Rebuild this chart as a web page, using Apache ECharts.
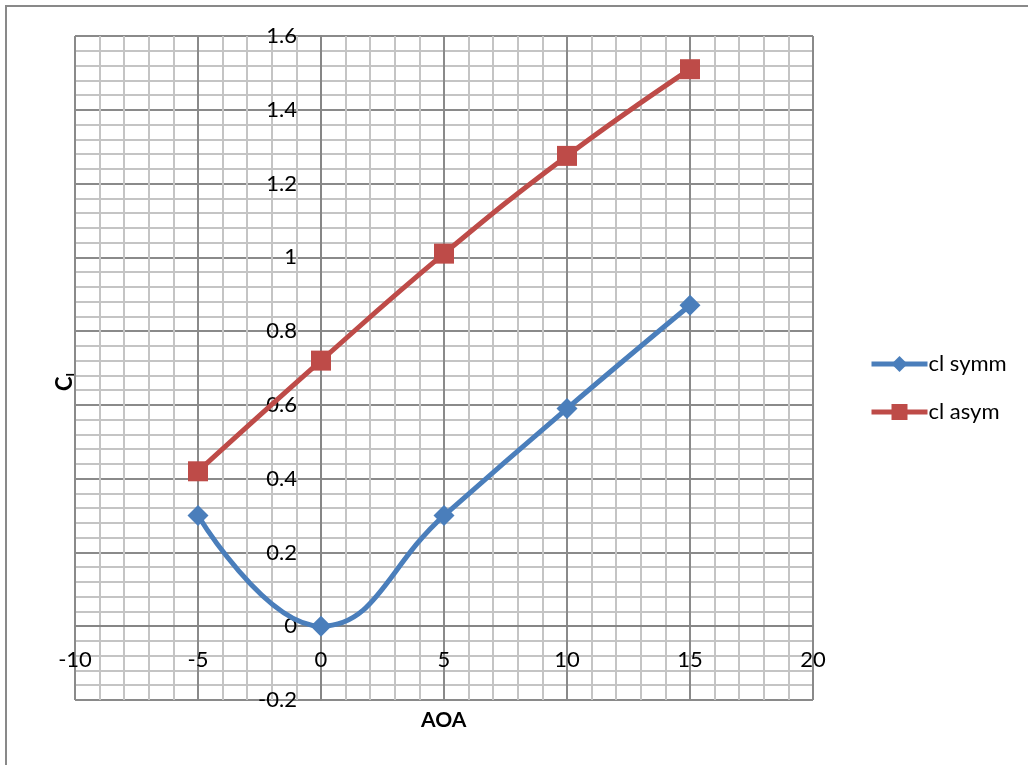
<!DOCTYPE html>
<html>
<head>
<meta charset="utf-8">
<script src="https://cdn.jsdelivr.net/npm/echarts@6/dist/echarts.min.js"></script>
<style>
  html, body { margin: 0; padding: 0; background: #fff; }
  #chart { width: 1028px; height: 765px; }
</style>
</head>
<body>
<div id="chart"></div>
<script>
// Angle of attack (degrees) and lift coefficients for the two airfoils
const aoa = [-5, 0, 5, 10, 15];
const clSymm = [0.30, 0.00, 0.30, 0.59, 0.87];
const clAsym = [0.42, 0.72, 1.01, 1.275, 1.51];
const seriesNames = ['cl symm', 'cl asym'];

const FONT = 'Lato, "Open Sans", sans-serif';
const GRID = { left: 75, right: 215, top: 36, bottom: 65 };
const X_MIN = -10, X_MAX = 20, Y_MIN = -0.2, Y_MAX = 1.6;

// Each axis crosses the other at zero: shift it in from the grid edge by that distance
const plotW = 1028 - GRID.left - GRID.right;
const plotH = 765 - GRID.top - GRID.bottom;
const yAxisShift = (0 - X_MIN) / (X_MAX - X_MIN) * plotW;
const xAxisShift = (0 - Y_MIN) / (Y_MAX - Y_MIN) * plotH;

const chart = echarts.init(document.getElementById('chart'), null, { renderer: 'canvas' });
const pairs = (xs, ys) => xs.map((x, i) => [x, ys[i]]);

const gridLines = {
  splitLine: { show: true, lineStyle: { color: '#8a8a8a', width: 2 } },
  minorTick: { show: false, splitNumber: 5 },
  minorSplitLine: { show: true, lineStyle: { color: '#c4c4c4', width: 2 } }
};

chart.setOption({
  animation: false,
  backgroundColor: '#fff',
  grid: Object.assign({ containLabel: false }, GRID),
  xAxis: Object.assign({
    type: 'value', min: X_MIN, max: X_MAX, interval: 5,
    position: 'bottom', offset: -xAxisShift,
    axisLine: { onZero: false, lineStyle: { color: '#868686', width: 2 } },
    axisTick: { show: false },
    axisLabel: { color: '#000', fontFamily: FONT, fontSize: 22, margin: 23 }
  }, gridLines),
  yAxis: Object.assign({
    type: 'value', min: Y_MIN, max: Y_MAX, interval: 0.2,
    position: 'left', offset: -yAxisShift,
    axisLine: { onZero: false, lineStyle: { color: '#868686', width: 2 } },
    axisTick: { show: false },
    axisLabel: {
      color: '#000', fontFamily: FONT, fontSize: 22, margin: 24,
      formatter: v => String(Math.round(v * 10) / 10)
    }
  }, gridLines),
  legend: {
    orient: 'vertical',
    left: 864, top: 348,
    itemGap: 26,
    itemWidth: 56, itemHeight: 20,
    lineStyle: { width: 5 },
    textStyle: { color: '#000', fontFamily: FONT, fontSize: 22, padding: [0, 0, 0, -4] },
    data: seriesNames
  },
  series: [
    {
      name: seriesNames[0], type: 'line', smooth: 0.45,
      data: pairs(aoa, clSymm),
      symbol: 'diamond', symbolSize: 21,
      lineStyle: { color: '#4a7ebb', width: 5 },
      itemStyle: { color: '#4a7ebb' }
    },
    {
      name: seriesNames[1], type: 'line', smooth: 0.45,
      data: pairs(aoa, clAsym),
      symbol: 'rect', symbolSize: 20,
      lineStyle: { color: '#be4b48', width: 5 },
      itemStyle: { color: '#be4b48' }
    }
  ],
  graphic: [
    {
      type: 'rect', silent: true,
      shape: { x: 6, y: 6, width: 1100, height: 900 },
      style: { fill: 'none', stroke: '#898989', lineWidth: 2 }
    },
    {
      type: 'text', left: 421, top: 710,
      style: { text: 'AOA', fill: '#000', font: 'bold 21px ' + FONT }
    },
    {
      type: 'text', x: 52, y: 391, rotation: Math.PI / 2,
      style: {
        text: '{c|C}{s|l}',
        rich: {
          c: { fill: '#000', font: 'bold 22px ' + FONT },
          s: { fill: '#000', font: 'bold 14px ' + FONT, padding: [12, 0, 0, 0] }
        }
      }
    }
  ]
});
</script>
</body>
</html>
